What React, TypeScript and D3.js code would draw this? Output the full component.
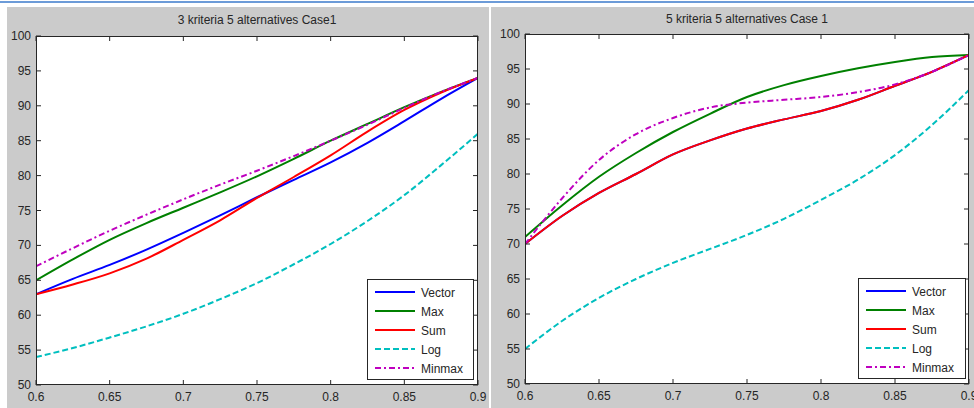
import React from "react";
import * as d3 from "d3";

const xValues = [0.6, 0.625, 0.65, 0.675, 0.7, 0.725, 0.75, 0.775, 0.8, 0.825, 0.85, 0.875, 0.9];
const xTicks = [0.6, 0.65, 0.7, 0.75, 0.8, 0.85, 0.9];
const yTicks = [50, 55, 60, 65, 70, 75, 80, 85, 90, 95, 100];
const seriesNames = ["Vector", "Max", "Sum", "Log", "Minmax"];

// Panel 1: 3 kriteria 5 alternatives Case1
const p1Vector = [63, 65.2, 67.2, 69.4, 71.8, 74.3, 76.9, 79.4, 81.9, 84.7, 87.8, 91, 94];
const p1Max = [65, 68, 70.8, 73.2, 75.4, 77.6, 79.9, 82.4, 85, 87.4, 89.8, 92, 94];
const p1Sum = [63, 64.4, 66, 68.1, 70.8, 73.6, 76.8, 79.8, 82.9, 86.3, 89.4, 91.9, 94];
const p1Log = [54, 55.3, 56.8, 58.4, 60.2, 62.3, 64.6, 67.3, 70.2, 73.5, 77.2, 81.5, 86];
const p1Minmax = [67, 69.6, 72.1, 74.4, 76.6, 78.7, 80.7, 82.8, 85, 87.3, 89.7, 92, 94];

// Panel 2: 5 kriteria 5 alternatives Case 1
const p2Vector = [70, 74, 77.3, 80, 82.8, 84.8, 86.5, 87.8, 89, 90.6, 92.6, 94.6, 97];
const p2Max = [71, 75.5, 79.6, 83, 86, 88.6, 91, 92.7, 94, 95.1, 96, 96.7, 97];
const p2Sum = [70, 74, 77.3, 80, 82.8, 84.8, 86.5, 87.8, 89, 90.6, 92.6, 94.6, 97];
const p2Log = [55, 59, 62.3, 65, 67.3, 69.3, 71.3, 73.6, 76.3, 79.2, 82.7, 87, 92];
const p2Minmax = [70, 76.5, 82, 85.7, 88, 89.5, 90.2, 90.6, 91, 91.7, 92.8, 94.6, 97];

const styles = [
  { color: "#0000FF", dash: "" },
  { color: "#008000", dash: "" },
  { color: "#FF0000", dash: "" },
  { color: "#00BFBF", dash: "6,3" },
  { color: "#BF00BF", dash: "6,3,2,3" },
];

const FONT = "'Liberation Sans', Arial, sans-serif";
const AX = "#262626";

type PanelProps = {
  id: string;
  title: string;
  bg: [number, number];
  plot: { x0: number; x1: number; y0: number; y1: number };
  titleY: number;
  series: number[][];
  legend: { x0: number; x1: number; y0: number; y1: number };
};

function Panel({ id, title, bg, plot, titleY, series, legend }: PanelProps) {
  const x = d3.scaleLinear().domain([0.6, 0.9]).range([plot.x0, plot.x1]);
  const y = d3.scaleLinear().domain([50, 100]).range([plot.y1, plot.y0]);
  const line = d3
    .line<number>()
    .x((_, i) => x(xValues[i]))
    .y((d) => y(d))
    .curve(d3.curveMonotoneX);
  const tick = 5;
  const step = (legend.y1 - legend.y0 - 24) / 4;
  return (
    <g>
      <rect x={bg[0]} y={7} width={bg[1] - bg[0]} height={401} fill="#CBCBCB" />
      <text x={(plot.x0 + plot.x1) / 2} y={titleY} textAnchor="middle" fontFamily={FONT} fontSize={12} fill="#262626">
        {title}
      </text>
      <clipPath id={id}>
        <rect x={plot.x0} y={plot.y0} width={plot.x1 - plot.x0} height={plot.y1 - plot.y0} />
      </clipPath>
      <rect x={plot.x0} y={plot.y0} width={plot.x1 - plot.x0} height={plot.y1 - plot.y0} fill="#fff" />
      <g clipPath={`url(#${id})`}>
        {series.map((s, i) => (
          <path key={i} d={line(s) || ""} fill="none" stroke={styles[i].color} strokeWidth={2} strokeDasharray={styles[i].dash} />
        ))}
      </g>
      {xTicks.map((t) => (
        <g key={"x" + t}>
          <line x1={x(t)} x2={x(t)} y1={plot.y1} y2={plot.y1 - tick} stroke={AX} />
          <line x1={x(t)} x2={x(t)} y1={plot.y0} y2={plot.y0 + tick} stroke={AX} />
          <text x={x(t)} y={plot.y1 + 16} textAnchor="middle" fontFamily={FONT} fontSize={12} fill="#262626">
            {String(t)}
          </text>
        </g>
      ))}
      {yTicks.map((t) => (
        <g key={"y" + t}>
          <line x1={plot.x0} x2={plot.x0 + tick} y1={y(t)} y2={y(t)} stroke={AX} />
          <line x1={plot.x1} x2={plot.x1 - tick} y1={y(t)} y2={y(t)} stroke={AX} />
          <text x={plot.x0 - 5} y={y(t) + 4} textAnchor="end" fontFamily={FONT} fontSize={12} fill="#262626">
            {String(t)}
          </text>
        </g>
      ))}
      <rect x={plot.x0 + 0.5} y={plot.y0 + 0.5} width={plot.x1 - plot.x0 - 1} height={plot.y1 - plot.y0 - 1} fill="none" stroke={AX} />
      <rect x={legend.x0 + 0.5} y={legend.y0 + 0.5} width={legend.x1 - legend.x0} height={legend.y1 - legend.y0} fill="#fff" stroke={AX} />
      {seriesNames.map((n, i) => {
        const ly = legend.y0 + 13 + i * step;
        return (
          <g key={n}>
            <line x1={legend.x0 + 8} x2={legend.x0 + 48} y1={ly} y2={ly} stroke={styles[i].color} strokeWidth={2} strokeDasharray={styles[i].dash} />
            <text x={legend.x0 + 54} y={ly + 4.5} fontFamily={FONT} fontSize={12} fill="#262626">
              {n}
            </text>
          </g>
        );
      })}
    </g>
  );
}

export default function App() {
  return (
    <svg width={974} height={408} style={{ position: "absolute", left: 0, top: 0, background: "#fff" }}>
      <rect x={0} y={1} width={974} height={2} fill="#6C9BD8" />
      <Panel
        id="c1"
        title="3 kriteria 5 alternatives Case1"
        bg={[7, 489]}
        plot={{ x0: 36, x1: 478, y0: 36, y1: 385 }}
        titleY={24}
        series={[p1Vector, p1Max, p1Sum, p1Log, p1Minmax]}
        legend={{ x0: 367, x1: 473, y0: 279, y1: 379 }}
      />
      <Panel
        id="c2"
        title="5 kriteria 5 alternatives Case 1"
        bg={[491, 974]}
        plot={{ x0: 525, x1: 969, y0: 34, y1: 384 }}
        titleY={23}
        series={[p2Vector, p2Max, p2Sum, p2Log, p2Minmax]}
        legend={{ x0: 858, x1: 965, y0: 278, y1: 378 }}
      />
    </svg>
  );
}
